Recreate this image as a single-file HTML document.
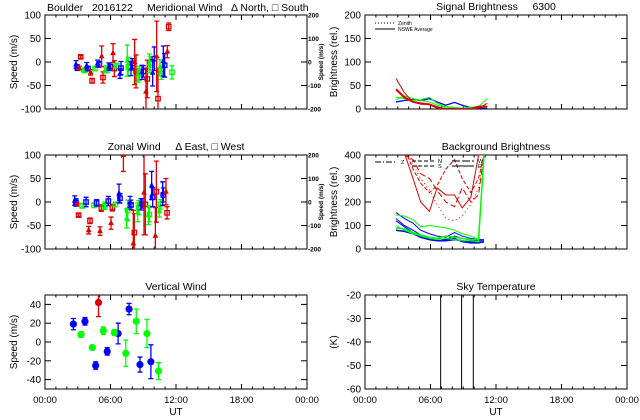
<!DOCTYPE html>
<html><head><meta charset="utf-8"><style>
body{margin:0;background:#fff;}
svg{display:block;font-family:"Liberation Sans",sans-serif;}
text{white-space:pre;}
</style></head><body>
<svg id="c" width="640" height="420" viewBox="0 0 640 420"></svg>
<script>
// ---- Meridional wind data ----
const merT=[2.84,2.96,3.14,3.27,3.51,3.63,3.82,3.94,4.18,4.31,4.58,4.82,4.95,5.19,5.31,5.56,5.65,5.86,5.98,6.23,6.35,6.56,6.87,6.96,7.54,7.63,7.88,8.0,8.21,8.34,8.52,8.64,8.89,9.01,9.25,9.37,9.56,9.68,9.86,10.01,10.23,10.35,10.53,10.66,10.84,10.96,11.21,11.33,11.63];
const merV=[-5,-12,-13,11,-17,-18,-8,-14,-22,-40,-14,-3,-5,12,-33,-15,-18,-10,-10,19,-14,-8,-25,-13,3,-10,-14,-3,0,-20,-28,-24,-22,-20,-63,-36,-3,-3,-23,7,12,-78,-10,-25,2,-7,22,75,-22];
const merE=[8,6,4,3,4,4,7,5,6,5,4,7,6,22,12,7,5,8,5,20,17,5,10,14,33,20,15,10,48,35,15,15,15,12,50,40,20,15,28,25,75,65,15,12,32,25,13,8,14];
const merC=["b","b","r","r","g","g","b","b","r","r","g","b","b","r","r","g","g","b","b","r","r","g","b","b","g","g","b","b","r","r","g","g","b","b","r","r","g","g","b","b","r","r","g","g","b","b","r","r","g"];
const merS=["t","s","t","s","t","s","t","s","t","s","s","t","s","t","s","t","s","t","s","t","s","s","t","s","t","s","t","s","t","s","t","s","t","s","t","s","t","s","t","s","t","s","t","s","t","s","t","s","s"];
// ---- Zonal wind data ----
const zonT=[2.72,2.84,2.96,3.08,3.39,3.76,4.0,4.12,4.49,4.73,5.04,5.16,5.47,5.80,6.05,6.17,6.44,6.78,6.87,7.18,7.48,7.57,7.79,7.88,8.09,8.18,8.49,8.58,8.79,8.89,9.07,9.19,9.47,9.56,9.77,9.86,10.11,10.2,10.47,10.56,10.78,10.84,11.08,11.18];
const zonV=[3,-1,-5,-28,-8,0,-60,-40,-7,-2,-62,-13,-8,2,-45,-12,-5,18,8,100,-35,-18,0,-6,-88,-65,-22,-12,-5,-3,20,-5,-28,-27,35,10,-72,22,-20,-5,18,15,22,-23];
const zonE=[10,8,3,3,5,10,8,6,5,7,9,7,8,10,13,7,5,20,10,35,20,22,12,10,70,40,20,15,12,10,90,65,20,15,30,20,60,65,12,10,25,15,28,13];
const zonC=["b","b","r","r","g","b","r","r","g","b","r","r","g","b","r","r","g","b","b","r","g","g","b","b","r","r","g","g","b","b","r","r","g","g","b","b","r","r","g","g","b","b","r","r"];
const zonS=["t","s","t","s","s","s","t","s","s","s","t","s","s","s","t","s","s","t","s","t","t","s","t","s","t","s","t","s","t","s","t","s","t","s","t","s","t","s","t","s","t","s","t","s"];
// ---- Vertical wind ----
const vwT=[2.6,3.66,4.64,5.7,6.7,7.7,8.7,9.7,3.3,4.33,5.34,6.35,7.4,8.36,9.34,10.4,4.9];
const vwV=[19,22,-25,-10,9,35,-24,-21,8,-6,12,10,-12,22,9,-31,42];
const vwE=[6,4,4,4,11,6,8,18,3,2,4,3,14,13,15,9,15];
const vwC=["b","b","b","b","b","b","b","b","g","g","g","g","g","g","g","g","r"];
// ---- Signal brightness ----
const sbT=[2.84,3.6,4.4,5.1,5.9,6.6,7.4,8.2,8.9,9.7,10.4,11.2];
const sbBlue=[15,18,20,18,22,15,8,14,8,3,2,2];
const sbGreen=[25,22,18,20,25,12,5,3,2,2,5,22];
const sbGreen2=[20,28,22,18,15,8,4,2,2,4,5,3];
const sbRed=[65,35,15,10,10,5,0,0,0,0,2,12];
const sbRed2=[42,25,15,12,10,3,0,0,0,0,5,5];
// ---- Background brightness ----
const bgT=[2.84,3.6,4.4,5.1,5.9,6.6,7.4,8.2,8.9,9.7,10.4,10.9];
const bgBlue1=[155,130,110,80,65,55,50,70,55,45,40,40];
const bgBlue2=[130,100,80,60,50,45,40,55,45,38,35,35];
const bgBlue3=[80,75,65,50,40,35,35,40,35,30,28,30];
const bgBlue4=[120,95,70,55,45,35,40,45,30,25,25,30];
const bgGreen1=[145,140,125,95,100,95,90,80,65,55,40,400];
const bgGreen2=[90,85,70,60,50,45,55,50,45,40,40,400];
const bgGreen3=[100,80,65,55,45,40,45,40,35,35,30,400];
const bgRed1=[420,410,300,200,160,260,230,230,175,220,400,400];
const bgRed2=[450,430,340,280,240,270,340,380,300,240,300,400];
const bgRed3=[430,400,380,320,300,250,200,180,260,200,230,400];
const bgRed4=[440,420,360,300,250,190,130,120,140,190,260,400];
// ---- Sky temperature ----
const skyT=[6.93,8.85,9.92];

const S=document.getElementById('c');
const NS='http://www.w3.org/2000/svg';
const COL={b:'#0000ff',g:'#00ff00',r:'#dd0000'};
function mk(tag,at,parent){const e=document.createElementNS(NS,tag);for(const k in at)e.setAttribute(k,at[k]);(parent||S).appendChild(e);return e;}
function txt(x,y,s,sz,anchor,rot){const t=mk('text',{x:x,y:y,'font-size':sz,'text-anchor':anchor||'middle',fill:'#000'});if(rot)t.setAttribute('transform','rotate(-90 '+x+' '+y+')');t.textContent=s;return t;}

function panel(name,x0,y0,ymin,ymax,yticks,title,ylab,opts){
  const w=262,h=94;
  const g=mk('g',{});
  
  
  const X=t=>x0+t/24*w, Y=v=>y0+h-(v-ymin)/(ymax-ymin)*h;
  const fr=mk('rect',{x:x0,y:y0,width:w,height:h,fill:'none',stroke:'#000','stroke-width':1},g);
  
  for(let hr=0;hr<=24;hr++){const L=hr%6==0?5:2.5;
    mk('line',{x1:X(hr),y1:y0+h,x2:X(hr),y2:y0+h-L,stroke:'#000'},g);
    mk('line',{x1:X(hr),y1:y0,x2:X(hr),y2:y0+L,stroke:'#000'},g);}
  yticks.forEach(v=>{mk('line',{x1:x0,y1:Y(v),x2:x0+6,y2:Y(v),stroke:'#000'},g);
    mk('line',{x1:x0+w,y1:Y(v),x2:x0+w-6,y2:Y(v),stroke:'#000'},g);
    const l=txt(x0-4,Y(v)+3.5,String(v),10,'end');});
  const tt=txt(x0+w/2,y0-5,title,10.5,'middle');
  const yl=txt(x0-28,y0+h/2,ylab,10,'middle',true);
  if(opts&&opts.xlabels){['00:00','06:00','12:00','18:00','00:00'].forEach((s,i)=>{const l=txt(X(i*6),y0+h+14,s,9.5,'middle');});
    const u=txt(x0+w/2,y0+h+26,'UT',10,'middle');}
  if(opts&&opts.right){[200,100,0,-100,-200].forEach(v=>{const l=txt(x0+w+1,Y(v/2)+2.5,String(v),6.5,'start');l.setAttribute('font-weight','bold');});
    const r=txt(x0+w+16,y0+h/2,'Speed (m/s)',6.5,'middle',true);r.setAttribute('font-weight','bold');}
  const cp='cp'+name;const c=mk('clipPath',{id:cp},g);mk('rect',{x:x0,y:y0,width:w,height:h},c);
  const dg=mk('g',{'clip-path':'url(#'+cp+')'},g);
  return {X,Y,g:dg};
}
function windSeries(P,T,V,E,C,Sh,nm){
  T.forEach((t,i)=>{const col=COL[C[i]],x=P.X(t),y=P.Y(V[i]),y1=P.Y(V[i]+E[i]),y2=P.Y(V[i]-E[i]);
    const eb=mk('path',{d:`M${x},${y1}V${y2}M${x-2.5},${y1}h5M${x-2.5},${y2}h5`,stroke:col,'stroke-width':1.3,fill:'none'},P.g);
    
    let m;
    if(Sh[i]=='t'){m=mk('path',{d:`M${x},${y-2.5}L${x+2},${y+1.5}L${x-2},${y+1.5}Z`,fill:col,stroke:col},P.g);}
    else{m=mk('rect',{x:x-2.2,y:y-2.2,width:4.4,height:4.4,fill:'none',stroke:col,'stroke-width':1.3},P.g);}
    
  });
}
function line(P,T,V,col,dash,nm,wid){
  const d=T.map((t,i)=>(i?'L':'M')+P.X(t)+','+P.Y(V[i])).join('');
  const p=mk('path',{d:d,stroke:col,fill:'none','stroke-width':wid||1,'stroke-dasharray':dash||'none'},P.g);
  
}

const st=txt(47,11,'Boulder   2016122',10.5,'start');
const P1=panel('meridional-wind-panel',45,15,-100,100,[100,50,0,-50,-100],'','Speed (m/s)',{right:true});
const mt=txt(147,11,'Meridional Wind   \u0394 North, \u25A1 South',10.5,'start');
windSeries(P1,merT,merV,merE,merC,merS,'meridional');

const P2=panel('zonal-wind-panel',45,155,-100,100,[100,50,0,-50,-100],'Zonal Wind     \u0394 East, \u25A1 West','Speed (m/s)',{right:true});
windSeries(P2,zonT,zonV,zonE,zonC,zonS,'zonal');

const P3=panel('vertical-wind-panel',45,295,-50,50,[40,20,0,-20,-40],'Vertical Wind','Speed (m/s)',{xlabels:true});
vwT.forEach((t,i)=>{const col=COL[vwC[i]],x=P3.X(t),y=P3.Y(vwV[i]),y1=P3.Y(vwV[i]+vwE[i]),y2=P3.Y(vwV[i]-vwE[i]);
  const eb=mk('path',{d:`M${x},${y1}V${y2}M${x-2.5},${y1}h5M${x-2.5},${y2}h5`,stroke:col,'stroke-width':1.3,fill:'none'},P3.g);
  
  const m=mk('circle',{cx:x,cy:y,r:3.6,fill:col},P3.g);
  });

const P4=panel('signal-brightness-panel',365,15,0,200,[200,150,100,50,0],'Signal Brightness     6300','Brightness (rel.)');
line(P4,sbT,sbBlue,COL.b,'','signal-blue',1.3);
line(P4,sbT,sbGreen,COL.g,'','signal-green');
line(P4,sbT,sbGreen2,COL.g,'','signal-green-2');
line(P4,sbT,sbRed,COL.r,'','signal-red');
line(P4,sbT,sbRed2,COL.r,'','signal-red-2',2);
mk('line',{x1:375,y1:23,x2:395,y2:23,stroke:'#000','stroke-dasharray':'1,2'});
mk('line',{x1:375,y1:29,x2:395,y2:29,stroke:'#000'});
const lz=txt(398,25,'Zenith',5,'start');
const la=txt(398,31,'NSWE Average',5,'start');

const P5=panel('background-brightness-panel',365,155,0,400,[400,300,200,100,0],'Background Brightness','Brightness (rel.)');
line(P5,bgT,bgRed1,COL.r,'','bg-red-e');
line(P5,bgT,bgRed2,COL.r,'4,2','bg-red-n');
line(P5,bgT,bgRed3,COL.r,'6,3','bg-red-w');
line(P5,bgT,bgRed4,COL.r,'1,3','bg-red-z');
line(P5,bgT,bgBlue1,COL.b,'','bg-blue-1');
line(P5,bgT,bgBlue2,COL.b,'','bg-blue-2');
line(P5,bgT,bgBlue3,COL.b,'','bg-blue-3',1.5);
line(P5,bgT,bgBlue4,COL.b,'','bg-blue-4');
line(P5,bgT,bgGreen1,COL.g,'','bg-green-1');
line(P5,bgT,bgGreen2,COL.g,'','bg-green-2',1.5);
line(P5,bgT,bgGreen3,COL.g,'','bg-green-3');
[[375,162,'6,2,1,2','Z'],[412,161,'4,2','N'],[412,166,'4,2','S'],[452,161,'8,2','W'],[452,166,'','E']].forEach(a=>{
  mk('line',{x1:a[0],y1:a[1],x2:a[0]+22,y2:a[1],stroke:'#000','stroke-dasharray':a[2]||'none'});
  const l=txt(a[0]+26,a[1]+2,a[3],5.5,'start');});

const P6=panel('sky-temperature-panel',365,295,-60,-20,[-20,-30,-40,-50,-60],'Sky Temperature','(K)',{xlabels:true});
skyT.forEach(t=>{const l=mk('line',{x1:P6.X(t),y1:295,x2:P6.X(t),y2:389,stroke:'#000'},P6.g);
  });
</script>
</body></html>
